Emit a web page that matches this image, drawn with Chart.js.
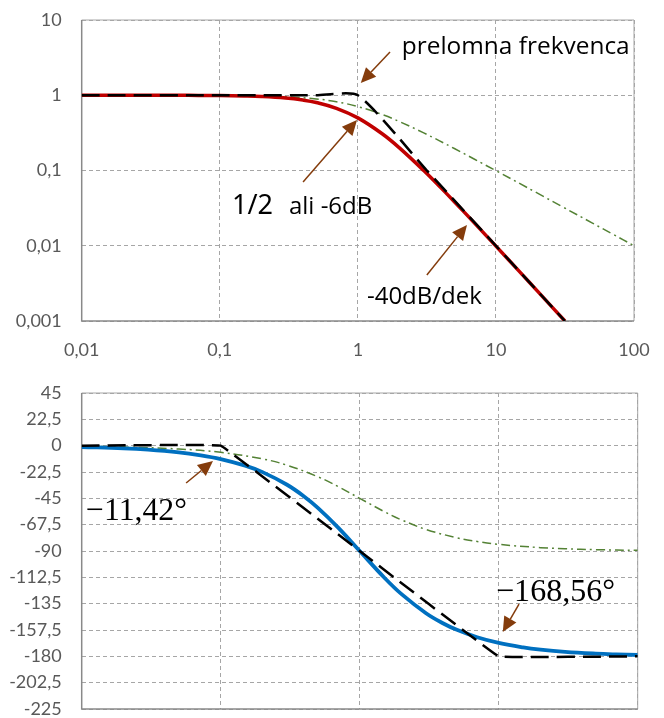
<!DOCTYPE html>
<html><head><meta charset="utf-8">
<script src="https://cdn.jsdelivr.net/npm/chart.js@4"></script>
<style>
html,body{margin:0;padding:0;background:#fff;}
#wrap{position:relative;width:664px;height:718px;overflow:hidden;}
canvas{position:absolute;left:0;}
</style></head><body>
<div id="wrap">
<canvas id="c1" width="664" height="365" style="top:0px"></canvas>
<canvas id="c2" width="664" height="355" style="top:365px"></canvas>
</div>
<script>
// ---- tick values & labels ----
const freqTicks = [0.01, 0.1, 1, 10, 100];
const freqTickLabels = ['0,01', '0,1', '1', '10', '100'];
const magTicks = [0.001, 0.01, 0.1, 1, 10];
const magTickLabels = ['0,001', '0,01', '0,1', '1', '10'];
const phaseTicks = [45, 22.5, 0, -22.5, -45, -67.5, -90, -112.5, -135, -157.5, -180, -202.5, -225];
const phaseTickLabels = ['45', '22,5', '0', '-22,5', '-45', '-67,5', '-90', '-112,5', '-135', '-157,5', '-180', '-202,5', '-225'];

// ---- magnitude: exact response (red) ----
const magFreq = [0.01, 0.02, 0.03, 0.05, 0.07, 0.1, 0.15, 0.2, 0.3, 0.4, 0.5, 0.7, 1, 1.5, 2, 3, 4, 5, 7, 10, 15, 20, 31.6];
const magExact = [1.0, 0.9996, 0.9991, 0.9975, 0.9951, 0.990, 0.978, 0.962, 0.917, 0.862, 0.800, 0.671, 0.500, 0.308, 0.200, 0.100, 0.0588, 0.0385, 0.0200, 0.0099, 0.00442, 0.00249, 0.001];
// ---- magnitude: asymptote (black dashed) ----
const magAsymFreq = [0.01, 0.1, 0.5, 1, 3.16, 10, 31.6];
const magAsym = [1, 1, 1, 1, 0.1, 0.01, 0.001];
// ---- magnitude: first order (green dash-dot) ----
const mag1Freq = [0.01, 0.1, 0.2, 0.3, 0.5, 0.7, 1, 1.5, 2, 3, 5, 7, 10, 20, 30, 50, 70, 100];
const mag1 = [1.0, 0.995, 0.981, 0.958, 0.894, 0.819, 0.707, 0.555, 0.447, 0.316, 0.196, 0.141, 0.0995, 0.050, 0.0333, 0.020, 0.0143, 0.010];

// ---- phase: exact (blue) ----
const phFreq = [0.01, 0.02, 0.03, 0.05, 0.07, 0.1, 0.15, 0.2, 0.3, 0.4, 0.5, 0.7, 1, 1.5, 2, 3, 4, 5, 7, 10, 15, 20, 30, 50, 70, 100];
const phExact = [-1.15, -2.29, -3.44, -5.72, -8.01, -11.42, -17.06, -22.62, -33.40, -43.60, -53.13, -69.98, -90, -112.62, -126.87, -143.13, -151.93, -157.38, -163.74, -168.58, -172.37, -174.28, -176.18, -177.71, -178.36, -178.85];
// ---- phase: asymptote (black dashed) ----
const phAsymFreq = [0.01, 0.1, 1, 10, 100];
const phAsym = [0, 0, -90, -180, -180];
// ---- phase: first order (green dash-dot) ----
const ph1Freq = [0.01, 0.02, 0.05, 0.1, 0.2, 0.3, 0.5, 0.7, 1, 1.5, 2, 3, 5, 7, 10, 20, 30, 50, 100];
const ph1 = [-0.57, -1.15, -2.86, -5.71, -11.31, -16.70, -26.57, -34.99, -45, -56.31, -63.43, -71.57, -78.69, -81.87, -84.29, -87.14, -88.09, -88.85, -89.43];

const zip = (xs, ys) => xs.map((x, i) => ({x: x, y: ys[i]}));

const TICK_FONT = {family: 'Lato', size: 18};
const TICK_COLOR = '#595959';
const GRID_COLOR = '#A6A6A6';
const BROWN = '#843C0C';

function drawArrow(ctx, x1, y1, x2, y2) {
  const ang = Math.atan2(y2 - y1, x2 - x1);
  const hl = 15, hw = 7;
  const bx = x2 - hl * Math.cos(ang), by = y2 - hl * Math.sin(ang);
  ctx.save();
  ctx.strokeStyle = BROWN; ctx.fillStyle = BROWN; ctx.lineWidth = 1.5;
  ctx.setLineDash([]);
  ctx.beginPath(); ctx.moveTo(x1, y1); ctx.lineTo(bx, by); ctx.stroke();
  ctx.beginPath();
  ctx.moveTo(x2, y2);
  ctx.lineTo(bx + hw * Math.sin(ang), by - hw * Math.cos(ang));
  ctx.lineTo(bx - hw * Math.sin(ang), by + hw * Math.cos(ang));
  ctx.closePath(); ctx.fill();
  ctx.restore();
}

function framePlugin() {
  return {
    id: 'frame',
    beforeDatasetsDraw(chart) {
      const {ctx, chartArea: a} = chart;
      ctx.save();
      ctx.setLineDash([]);
      ctx.strokeStyle = '#A6A6A6'; ctx.lineWidth = 1;
      ctx.beginPath();
      ctx.moveTo(a.left, a.top); ctx.lineTo(a.right, a.top); ctx.lineTo(a.right, a.bottom);
      ctx.stroke();
      ctx.strokeStyle = '#898989'; ctx.lineWidth = 1.5;
      ctx.beginPath();
      ctx.moveTo(a.left, a.top); ctx.lineTo(a.left, a.bottom); ctx.lineTo(a.right, a.bottom);
      ctx.stroke();
      ctx.restore();
    }
  };
}

function annoPlugin(texts, arrows) {
  return {
    id: 'anno',
    afterDatasetsDraw(chart) {
      const ctx = chart.ctx, sx = chart.scales.x, sy = chart.scales.y;
      ctx.save();
      ctx.fillStyle = '#000';
      ctx.textBaseline = 'alphabetic';
      ctx.textAlign = 'left';
      texts.forEach(t => {
        ctx.font = '100px ' + t.family;
        const w100 = ctx.measureText(t.text).width;
        const size = Math.min(100 * t.w / w100, t.max);
        ctx.font = size.toFixed(2) + 'px ' + t.family;
        const px = sx.getPixelForValue(t.x), py = sy.getPixelForValue(t.y);
        ctx.fillText(t.text, px, py, t.w);
      });
      ctx.restore();
      arrows.forEach(a => drawArrow(ctx,
        sx.getPixelForValue(a[0]), sy.getPixelForValue(a[1]),
        sx.getPixelForValue(a[2]), sy.getPixelForValue(a[3])));
    }
  };
}

function xScale(showLabels, h) {
  return {
    type: 'logarithmic', min: 0.01, max: 100,
    afterBuildTicks: s => { s.ticks = freqTicks.map(v => ({value: v})); },
    afterFit: s => { s.height = h; s.paddingLeft = 0; s.paddingRight = 0; },
    grid: {color: GRID_COLOR, lineWidth: 1, drawTicks: false},
    border: {display: false, dash: [4, 3]},
    ticks: {display: showLabels, autoSkip: false, maxRotation: 0, padding: 18,
      color: TICK_COLOR, font: TICK_FONT,
      callback: (v, i) => freqTickLabels[i]}
  };
}

function yFit(s) { s.width = 81.7; s.paddingTop = 0; s.paddingBottom = 0; }

Chart.defaults.font.family = 'Lato';

new Chart(document.getElementById('c1'), {
  type: 'line',
  data: {datasets: [
    {data: zip(magAsymFreq, magAsym), borderColor: '#000000', borderWidth: 2.5, borderDash: [18, 8], pointRadius: 0, tension: 0.2, fill: false},
    {data: zip(magFreq, magExact), borderColor: '#C00000', borderWidth: 3.5, pointRadius: 0, tension: 0.4, fill: false},
    {data: zip(mag1Freq, mag1), borderColor: '#548235', borderWidth: 1.5, borderDash: [9, 4, 2, 4], pointRadius: 0, tension: 0.4, fill: false}
  ]},
  options: {
    responsive: false, animation: false, devicePixelRatio: 1,
    layout: {padding: {left: 0, right: 30, top: 20, bottom: 0}},
    plugins: {legend: {display: false}, tooltip: {enabled: false}},
    scales: {
      x: xScale(true, 44),
      y: {
        type: 'logarithmic', min: 0.001, max: 10,
        afterBuildTicks: s => { s.ticks = magTicks.map(v => ({value: v})); },
        afterFit: yFit,
        grid: {color: GRID_COLOR, lineWidth: 1, drawTicks: false},
        border: {display: false, dash: [4, 3]},
        ticks: {autoSkip: false, padding: 20, color: TICK_COLOR, font: TICK_FONT,
          callback: (v, i) => magTickLabels[i]}
      }
    }
  },
  plugins: [framePlugin(), annoPlugin([
    {text: 'prelomna frekvenca', family: '"Open Sans"', x: 2.08, y: 3.53, w: 228, max: 26},
    {text: '1/2', family: '"Noto Sans"', x: 0.1225, y: 0.0264, w: 44, max: 27},
    {text: 'ali -6dB', family: '"Open Sans"', x: 0.317, y: 0.0264, w: 84, max: 24},
    {text: '-40dB/dek', family: '"Open Sans"', x: 1.164, y: 0.00168, w: 119, max: 24}
  ], [
    [1.71, 3.76, 1.05, 1.456],
    [0.401, 0.0703, 0.986, 0.469],
    [3.16, 0.00408, 6.17, 0.0189]
  ])]
});

new Chart(document.getElementById('c2'), {
  type: 'line',
  data: {datasets: [
    {data: zip(phAsymFreq, phAsym), borderColor: '#000000', borderWidth: 2.5, borderDash: [18, 8], pointRadius: 0, tension: 0.03, fill: false},
    {data: zip(phFreq, phExact), borderColor: '#0070C0', borderWidth: 3.8, pointRadius: 0, tension: 0.4, fill: false},
    {data: zip(ph1Freq, ph1), borderColor: '#548235', borderWidth: 1.5, borderDash: [9, 4, 2, 4], pointRadius: 0, tension: 0.4, fill: false}
  ]},
  options: {
    responsive: false, animation: false, devicePixelRatio: 1,
    layout: {padding: {left: 0, right: 26.3, top: 28, bottom: 0}},
    plugins: {legend: {display: false}, tooltip: {enabled: false}},
    scales: {
      x: xScale(false, 11),
      y: {
        type: 'linear', min: -225, max: 45,
        afterBuildTicks: s => { s.ticks = phaseTicks.map(v => ({value: v})); },
        afterFit: yFit,
        grid: {color: GRID_COLOR, lineWidth: 1, drawTicks: false},
        border: {display: false, dash: [4, 3]},
        ticks: {autoSkip: false, padding: 20, color: TICK_COLOR, font: TICK_FONT,
          callback: (v, i) => phaseTickLabels[i]}
      }
    }
  },
  plugins: [framePlugin(), annoPlugin([
    {text: '\u221211,42\u00B0', family: '"Liberation Serif"', x: 0.01074, y: -63.5, w: 101, max: 33},
    {text: '\u2212168,56\u00B0', family: '"Liberation Serif"', x: 9.57, y: -132.7, w: 119, max: 33}
  ], [
    [0.0564, -31.9, 0.088, -13.1],
    [14.0, -135.3, 10.7, -159.2]
  ])]
});
</script>
</body></html>
